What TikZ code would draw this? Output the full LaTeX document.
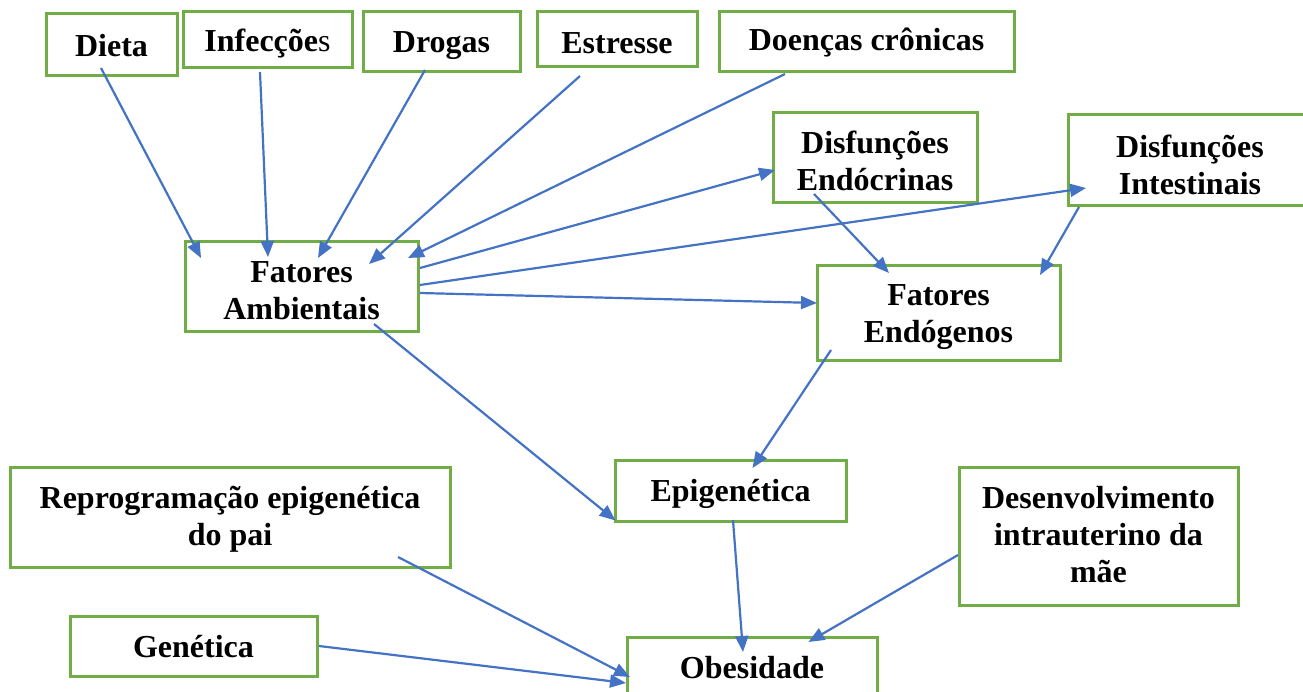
\documentclass[tikz,border=0pt]{standalone}
\usepackage{fontspec}
\setmainfont{Liberation Serif}
\usetikzlibrary{arrows.meta}
\definecolor{boxgreen}{HTML}{70AD47}
\definecolor{arrblue}{HTML}{4472C4}
\tikzset{
  box/.style={draw=boxgreen, line width=3pt, fill=white, inner sep=0pt},
  lbl/.style={inner sep=0pt, align=center, font=\fontsize{32}{37}\selectfont\bfseries},
  conn/.style={draw=arrblue, line width=2.2pt, -{Triangle[length=16pt,width=13pt]}}
}
\begin{document}
\begin{tikzpicture}[x=1pt,y=-1pt]
\useasboundingbox (0,0) rectangle (1303,692);
\node[box, minimum width=131pt, minimum height=62pt] (dieta) at (111.5,45) {};
\node[box, minimum width=169pt, minimum height=56pt] (infec) at (267.5,40) {};
\node[box, minimum width=157pt, minimum height=60pt] (drogas) at (441.5,42) {};
\node[box, minimum width=160pt, minimum height=55pt] (estresse) at (617,39.5) {};
\node[box, minimum width=295pt, minimum height=60pt] (doencas) at (866.5,42) {};
\node[box, minimum width=204pt, minimum height=90pt] (disfendo) at (875,158) {};
\node[box, minimum width=244pt, minimum height=91pt] (disfint) at (1190,160.5) {};
\node[box, minimum width=233pt, minimum height=90pt] (fa) at (301.5,287) {};
\node[box, minimum width=243pt, minimum height=94pt] (fe) at (938.5,313) {};
\node[box, minimum width=231pt, minimum height=61pt] (epi) at (730.5,490.5) {};
\node[box, minimum width=279pt, minimum height=138pt] (desenv) at (1098.5,536) {};
\node[box, minimum width=250pt, minimum height=62pt] (obes) at (752,668) {};
\node[box, minimum width=440pt, minimum height=100pt] (repro) at (230,517) {};
\node[box, minimum width=247pt, minimum height=60pt] (gen) at (193.5,646) {};

\node[lbl] (tdieta) at ([shift={(0,1)}]dieta.center) {Dieta};
\node[lbl] (tinfec) at ([shift={(0,4)}]infec.center) {Infecçõe{\mdseries s}};
\node[lbl] (tdrogas) at ([shift={(0,4)}]drogas.center) {Drogas};
\node[lbl] (testresse) at ([shift={(0,4)}]estresse.center) {Estresse};
\node[lbl] (tdoencas) at ([shift={(0,1)}]doencas.center) {Doenças crônicas};
\node[lbl] (tdisfendo) at ([shift={(0,3)}]disfendo.center) {Disfunções\\Endócrinas};
\node[lbl] (tdisfint) at ([shift={(0,4)}]disfint.center) {Disfunções\\Intestinais};
\node[lbl] (tfa) at ([shift={(0,4)}]fa.center) {Fatores\\Ambientais};
\node[lbl] (tfe) at ([shift={(0,4)}]fe.center) {Fatores\\Endógenos};
\node[lbl] (tepi) at ([shift={(0,3)}]epi.center) {Epigenética};
\node[lbl] (tdesenv) at ([shift={(0,-1)}]desenv.center) {Desenvolvimento\\intrauterino da\\mãe};
\node[lbl] (tobes) at ([shift={(0,0)}]obes.center) {Obesidade};
\node[lbl] (trepro) at ([shift={(0,2)}]repro.center) {Reprogramação epigenética\\do pai};
\node[lbl] (tgen) at ([shift={(0,1)}]gen.center) {Genética};

\draw[conn] ([shift={(-10.5,23)}]dieta.center) -- ([shift={(-100.5,-29)}]fa.center);
\draw[conn] ([shift={(-7.5,32)}]infec.center) -- ([shift={(-33.5,-30)}]fa.center);
\draw[conn] ([shift={(-16.5,28)}]drogas.center) -- ([shift={(16.5,-29)}]fa.center);
\draw[conn] ([shift={(-37,36.5)}]estresse.center) -- ([shift={(67.5,-23)}]fa.center);
\draw[conn] ([shift={(-81.5,32)}]doencas.center) -- ([shift={(106.5,-29)}]fa.center);
\draw[conn] ([shift={(118.5,-19)}]fa.center) -- ([shift={(-100,12)}]disfendo.center);
\draw[conn] ([shift={(118.5,-2)}]fa.center) -- ([shift={(-104,27.5)}]disfint.center);
\draw[conn] ([shift={(118.5,6)}]fa.center) -- ([shift={(-121.5,-10)}]fe.center);
\draw[conn] ([shift={(-61,36)}]disfendo.center) -- ([shift={(-49.5,-40)}]fe.center);
\draw[conn] ([shift={(-111,46.5)}]disfint.center) -- ([shift={(101.5,-38)}]fe.center);
\draw[conn] ([shift={(-107.5,37)}]fe.center) -- ([shift={(22,-22.5)}]epi.center);
\draw[conn] ([shift={(72.5,37)}]fa.center) -- ([shift={(-115,30)}]epi.center);
\draw[conn] ([shift={(2.5,29.5)}]epi.center) -- ([shift={(-9,-16)}]obes.center);
\draw[conn] ([shift={(-140.5,19)}]desenv.center) -- ([shift={(56.5,-26)}]obes.center);
\draw[conn] ([shift={(168,40)}]repro.center) -- ([shift={(-122,9)}]obes.center);
\draw[conn] ([shift={(125.5,0)}]gen.center) -- ([shift={(-126,15)}]obes.center);
\end{tikzpicture}
\end{document}
